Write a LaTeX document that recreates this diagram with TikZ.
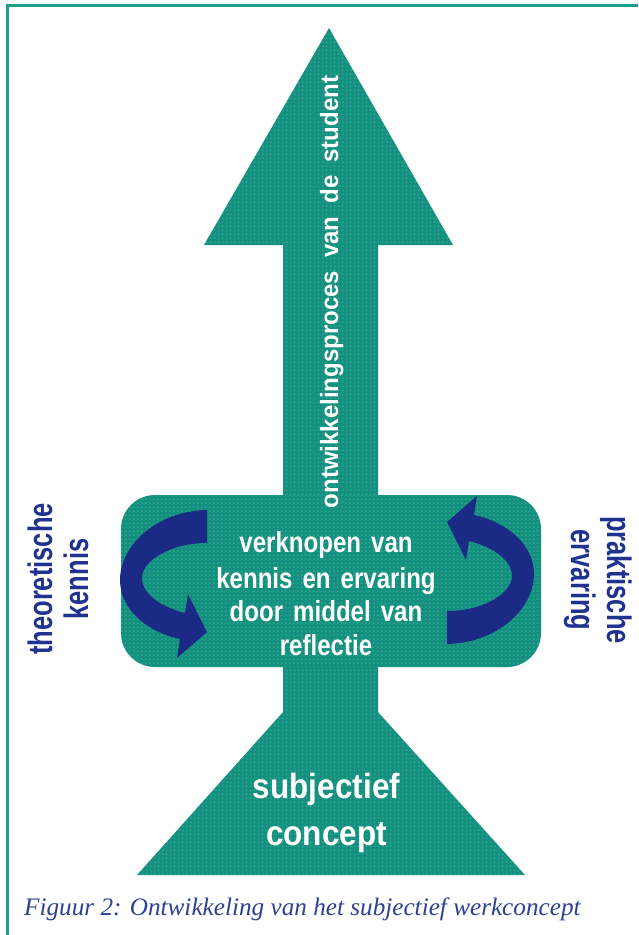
\documentclass[tikz,border=0pt]{standalone}
\usepackage{fontspec}
\setmainfont{Liberation Sans}
\newfontfamily\lblfont{Liberation Sans}[FakeStretch=0.75]
\newfontfamily\midfont{Liberation Sans}[FakeStretch=0.83,WordSpace=1.5]
\newfontfamily\subjfont{Liberation Sans}[FakeStretch=0.9]
\newfontfamily\vertfont{Liberation Sans}[FakeStretch=0.96]
\newfontfamily\capfont{Liberation Serif}
\usetikzlibrary{patterns.meta}
\definecolor{tealbase}{HTML}{159080}
\definecolor{dotgreen}{HTML}{40C894}
\definecolor{framecol}{HTML}{1C9E8A}
\definecolor{navyarrow}{HTML}{1B2A84}
\definecolor{navylabel}{HTML}{20328F}
\definecolor{capblue}{HTML}{2D4194}
\tikzdeclarepattern{
  name=halftone,
  type=uncolored,
  bottom left={(0pt,0pt)},
  top right={(4.3pt,4.3pt)},
  tile size={(4.3pt,4.3pt)},
  code={\fill (2.15pt,2.15pt) circle (0.8pt);}
}
\tikzset{
  tealshape/.style={fill=tealbase, postaction={pattern=halftone, pattern color=dotgreen}},
  whitetext/.style={text=white, inner sep=0pt},
  midtext/.style={whitetext, anchor=base, font=\midfont\bfseries\fontsize{29}{33}\selectfont},
  subjtext/.style={whitetext, anchor=base, font=\subjfont\bfseries\fontsize{35}{40}\selectfont},
  vtext/.style={whitetext, anchor=base, rotate=90, font=\vertfont\bfseries\fontsize{25}{28}\selectfont},
  sidelabel/.style={text=navylabel, inner sep=0pt, anchor=base, font=\lblfont\bfseries\fontsize{34}{38}\selectfont},
  curvarrow/.pic={
    \fill[navyarrow] (207,510) .. controls (157,511) and (120,545) .. (120,580)
      .. controls (120,611) and (150,633) .. (180,639) -- (177,658) -- (207,632)
      -- (188,594) -- (185,613) .. controls (161,607) and (142,594) .. (142,578)
      .. controls (142,561) and (170,543) .. (207,543) -- cycle;
  }
}
\begin{document}
\begin{tikzpicture}[x=1pt,y=-1pt]
\useasboundingbox (0,0) rectangle (638,935);
% frame
\draw[framecol, line width=3pt] (7,935) -- (7,5.5) -- (638,5.5);
% main teal shapes
\path[tealshape] (329,28) -- (453,245) -- (378,245) -- (378,712) -- (525,875)
  -- (137,875) -- (283,712) -- (283,245) -- (204,245) -- cycle;
\path[tealshape, rounded corners=34pt] (121,495) rectangle (541,667);
% curved arrows
\pic (larrow) at (0,0) {curvarrow};
\pic[rotate=180] (rarrow) at (654,1154) {curvarrow};
% vertical text
\node[vtext] (vert) at (338,292) {ontwikkelingsproces\hspace{13pt}van\hspace{13pt}de\hspace{13pt}student};
% middle text
\node[midtext] (mid1) at (326,552) {verknopen van};
\node[midtext] (mid2) at (326,588) {kennis en ervaring};
\node[midtext] (mid3) at (326,621) {door middel van};
\node[midtext] (mid4) at (326,655) {reflectie};
% bottom text
\node[subjtext] (subj1) at (326.5,798) {subjectief};
\node[subjtext] (subj2) at (326.5,845) {concept};
% side labels
\node[sidelabel, rotate=90] (theo) at (52,579) {theoretische};
\node[sidelabel, rotate=90] (kenn) at (88,579) {kennis};
\node[sidelabel, rotate=-90] (prak) at (607,580) {praktische};
\node[sidelabel, rotate=-90] (erva) at (571,580) {ervaring};
% caption
\node[text=capblue, inner sep=0pt, anchor=base west, font=\capfont\itshape\fontsize{25.2}{30}\selectfont] (cap) at (24,915) {Figuur 2: Ontwikkeling van het subjectief werkconcept};
\end{tikzpicture}
\end{document}
